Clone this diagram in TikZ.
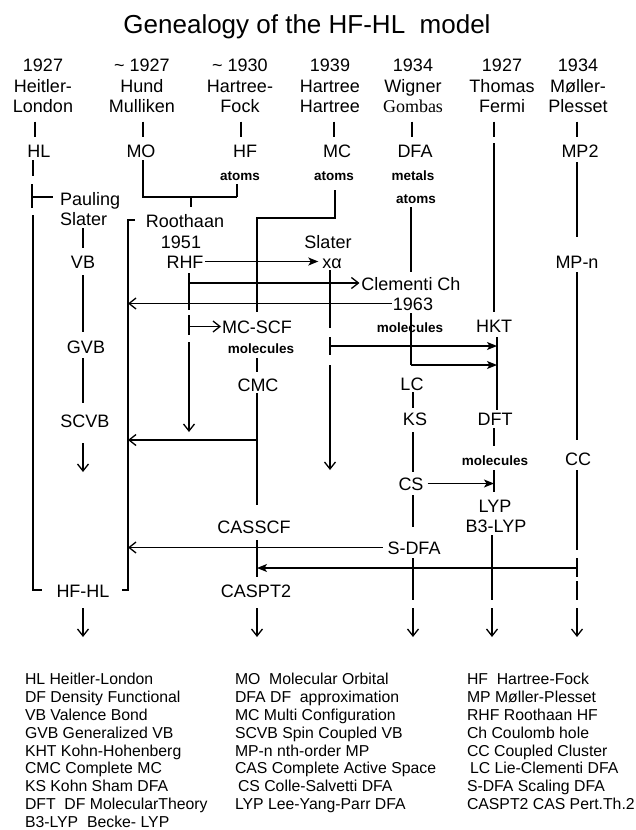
\documentclass[tikz,border=0pt]{standalone}
\usepackage{fontspec}
\setmainfont{Liberation Sans}
\newfontfamily\gombasfont{Liberation Serif}
\usetikzlibrary{arrows.meta}
\begin{document}
\begin{tikzpicture}[x=1pt,y=-1pt,
  lb/.style={font=\fontsize{18}{20.5}\selectfont, inner sep=0pt, outer sep=0pt, anchor=base, text height=13pt, text depth=0pt},
  sm/.style={font=\bfseries\fontsize{13.5}{14}\selectfont, inner sep=0pt, outer sep=0pt, anchor=base, text height=9.5pt, text depth=0pt},
  hd/.style={font=\fontsize{18}{20.5}\selectfont, align=center, inner sep=0pt, outer sep=0pt, anchor=north},
  ml/.style={font=\fontsize{18}{20.5}\selectfont, align=left, inner sep=0pt, outer sep=0pt, anchor=north west},
  lg/.style={font=\fontsize{15.8}{17.9}\selectfont, align=left, inner sep=0pt, outer sep=0pt, anchor=north west},
  ln/.style={line width=1.3pt},
  fa/.style={ln,-{Stealth[length=10pt,width=8pt,inset=2.5pt]}},
  ba/.style={ln,-{Straight Barb[length=7pt,width=11pt]}},
]
\fill[white] (0,0) rectangle (635,830);
\useasboundingbox (0,0) rectangle (635,830);

% ---------- title and headers
\node[font=\fontsize{26}{30}\selectfont, inner sep=0pt, anchor=base] (title) at (307,33) {Genealogy of the HF-HL\ \ model};
\node[hd] (h1) at (43,59) {1927\\Heitler-\\London};
\node[hd] (h2) at (142,59) {\textasciitilde\ 1927\\Hund\\Mulliken};
\node[hd] (h3) at (240,59) {\textasciitilde\ 1930\\Hartree-\\Fock};
\node[hd] (h4) at (330,59) {1939\\Hartree\\Hartree};
\node[hd] (h5) at (413,59) {1934\\Wigner\\{\gombasfont Gombas}};
\node[hd] (h6) at (502,59) {1927\\Thomas\\Fermi};
\node[hd] (h7) at (578,59) {1934\\Møller-\\Plesset};

% ---------- labels
\node[lb] (HL) at (39,157) {HL};
\node[lb] (MO) at (141,157) {MO};
\node[lb] (HF) at (245,157) {HF};
\node[lb] (MC) at (337,157) {MC};
\node[lb] (DFA) at (415,157) {DFA};
\node[lb] (MP2) at (580,157) {MP2};
\node[sm] (aHF) at (240,180) {atoms};
\node[sm] (aMC) at (334,180) {atoms};
\node[sm] (metals) at (413,180) {metals};
\node[sm] (aDFA) at (416,203) {atoms};
\node[ml] (PS) at (60,192) {Pauling\\Slater};
\node[lb] (Roo) at (185,227) {Roothaan};
\node[lb] (Y51) at (181,248) {1951};
\node[lb] (RHF) at (185,268) {RHF};
\node[lb] (Sl) at (328,248) {Slater};
\node[lb] (xa) at (332,268) {xα};
\node[lb] (VB) at (83,268) {VB};
\node[lb] (MPn) at (577,268) {MP-n};
\node[lb] (Cl) at (411,290) {Clementi Ch};
\node[lb] (Y63) at (413,310) {1963};
\node[lb] (HKT) at (494,332) {HKT};
\node[lb] (MCSCF) at (257,333) {MC-SCF};
\node[sm] (mol5) at (410,332) {molecules};
\node[sm] (mol4) at (261,353) {molecules};
\node[lb] (GVB) at (86,353) {GVB};
\node[lb] (CMC) at (258,391) {CMC};
\node[lb] (LC) at (412,390) {LC};
\node[lb] (DFT) at (495,425) {DFT};
\node[lb] (KS) at (415,425) {KS};
\node[lb] (SCVB) at (85,427) {SCVB};
\node[sm] (mol6) at (495,465) {molecules};
\node[lb] (CC) at (578,465) {CC};
\node[lb] (CS) at (411,490) {CS};
\node[lb] (LYP) at (495,512) {LYP};
\node[lb] (B3) at (496,532) {B3-LYP};
\node[lb] (CASSCF) at (254,533) {CASSCF};
\node[lb] (SDFA) at (414,554) {S-DFA};
\node[lb] (HFHL) at (83,597) {HF-HL};
\node[lb] (CASPT2) at (256,597) {CASPT2};

% ---------- column x references
\coordinate (kA) at (35,0);
\coordinate (kB) at (33,0);
\coordinate (kC) at (143,0);
\coordinate (kD) at (241,0);
\coordinate (kE) at (334,0);
\coordinate (kF) at (412,0);
\coordinate (kG) at (494,0);
\coordinate (kH) at (577,0);
\coordinate (kI) at (83,0);
\coordinate (kJ) at (189,0);
\coordinate (kK) at (257,0);
\coordinate (kL) at (330,0);
\coordinate (kM) at (411,0);
\coordinate (kN) at (413,0);
\coordinate (kO) at (492,0);

% ---------- header ticks
\foreach \h/\n/\k in {h1/HL/kA,h2/MO/kC,h3/HF/kD,h4/MC/kE,h5/DFA/kF,h7/MP2/kH}
  \draw[ln,shorten <=9pt,shorten >=7pt] (\h.south -| \k) -- (\n.north -| \k);
\coordinate (g6) at (494,140);
\draw[ln,shorten <=9pt,shorten >=3pt] (h6.south -| kG) -- (g6);
\draw[ln,shorten <=3pt,shorten >=7pt] (g6) -- (HKT.north -| kG);

% ---------- Heitler-London column and HF-HL brackets
\coordinate (p0) at (33,176);
\coordinate (p1) at (32,184);
\coordinate (p2) at (32,208);
\coordinate (pj) at (32,197);
\draw[ln,shorten <=3pt] (HL.south -| kB) -- (p0);
\draw[ln] (p1) -- (p2);
\draw[ln,shorten >=7pt] (pj) -- (pj -| PS.west);
\coordinate (q1) at (33,215);
\coordinate (q2) at (33,590);
\coordinate (q3) at (42,590);
\draw[ln] (q1) -- (q2) -- (q3);
\coordinate (r0) at (135,220);
\coordinate (r1) at (128,220);
\coordinate (r2) at (128,590);
\coordinate (r3) at (122,590);
\draw[ln] (r0) -- (r1) -- (r2) -- (r3);

% ---------- MO / HF bracket to Roothaan
\coordinate (m1) at (143,197);
\coordinate (m2) at (237,197);
\coordinate (mj) at (191,197);
\draw[ln,shorten <=3pt] (MO.south -| kC) -- (m1) -- (m2);
\draw[ln,shorten >=4pt] (m2) -- (m2 |- aHF.south);
\draw[ln,shorten >=7pt] (mj) -- (mj |- Roo.north);

% ---------- MC line to MC-SCF
\coordinate (n1) at (335,218);
\coordinate (n2) at (257,218);
\draw[ln,shorten <=10pt,shorten >=8pt] (aMC.south -| n1) -- (n1) -- (n2) -- (n2 |- MCSCF.north);

% ---------- RHF
\draw[fa,shorten <=2pt,shorten >=4pt] (RHF.east) -- (xa.west);
\coordinate (s1) at (189,283);
\coordinate (s2) at (189,310);
\draw[ln,shorten <=5pt] (RHF.south -| kJ) -- (s2);
\draw[ba,shorten >=2pt] (s1) -- (s1 -| Cl.west);
\coordinate (s3) at (189,315);
\coordinate (s4) at (189,335);
\draw[ln] (s3) -- (s4);
\draw[ba,shorten >=1pt] (MCSCF.west -| kJ) -- (MCSCF.west);
\coordinate (s5) at (189,342);
\coordinate (s6) at (189,432);
\draw[ba] (s5) -- (s6);

% ---------- 1963 to HF-HL
\draw[ba,shorten <=1pt] (Y63.west) -- (Y63.west -| r1);

% ---------- Slater x-alpha
\coordinate (t1) at (330,328);
\draw[ln,shorten <=2pt] (xa.south -| kL) -- (t1);
\coordinate (t2) at (330,337);
\coordinate (t3) at (330,355);
\coordinate (tm) at (330,346);
\draw[ln] (t2) -- (t3);
\coordinate (u1) at (497,337);
\coordinate (u2) at (497,355);
\coordinate (um) at (497,346);
\draw[ln] (u1) -- (u2);
\draw[fa] (tm) -- (um);
\coordinate (t4) at (330,365);
\coordinate (t5) at (330,470);
\draw[ba] (t4) -- (t5);

% ---------- DFA column
\draw[ln,shorten <=4pt,shorten >=5pt] (aDFA.south -| kM) -- (Cl.north -| kM);
\coordinate (w1) at (411,365);
\draw[ln,shorten <=3pt] (Y63.south -| kM) -- (w1);
\draw[fa] (w1) -- (w1 -| u2);
\draw[ln,shorten >=2pt] (u2) -- (u2 |- DFT.north);
\draw[ln,shorten <=2pt,shorten >=4pt] (LC.south -| kN) -- (KS.north -| kN);
\draw[ln,shorten <=7pt,shorten >=5pt] (KS.south -| kN) -- (CS.north -| kN);
\draw[fa,shorten <=4pt] (CS.east) -- (CS.east -| kG);
\draw[ln,shorten <=5pt,shorten >=14pt] (CS.south -| kN) -- (SDFA.north -| kN);
\draw[ba,shorten <=5pt] (SDFA.west) -- (SDFA.west -| r1);
\coordinate (z3) at (413,600);
\draw[ln,shorten <=4pt] (SDFA.south -| kN) -- (z3);

% ---------- DFT column
\draw[ln,shorten <=3pt,shorten >=10pt] (DFT.south -| kG) -- (mol6.north -| kG);
\coordinate (v1) at (494,470);
\coordinate (v2) at (494,492);
\draw[ln] (v1) -- (v2);
\coordinate (z4) at (492,600);
\draw[ln,shorten <=3pt] (B3.south -| kO) -- (z4);

% ---------- MP column
\draw[ln,shorten <=5pt,shorten >=18pt] (MP2.south -| kH) -- (MPn.north -| kH);
\draw[ln,shorten <=4pt,shorten >=12pt] (MPn.south -| kH) -- (CC.north -| kH);
\coordinate (y1) at (577,550);
\draw[ln,shorten <=5pt] (CC.south -| kH) -- (y1);
\coordinate (y2) at (577,558);
\coordinate (y3) at (577,577);
\coordinate (ym) at (577,568);
\draw[ln] (y2) -- (y3);
\coordinate (x1) at (257,558);
\coordinate (x2) at (257,577);
\coordinate (xm) at (257,568);
\draw[ln] (x1) -- (x2);
\draw[fa] (ym) -- (xm);
\coordinate (y4) at (577,581);
\coordinate (z5) at (577,600);
\draw[ln] (y4) -- (z5);

% ---------- CMC column
\draw[ln,shorten <=5pt,shorten >=6pt] (mol4.south -| kK) -- (CMC.north -| kK);
\draw[ln,shorten <=2pt,shorten >=15pt] (CMC.south -| kK) -- (CASSCF.north -| kK);
\coordinate (k1) at (257,440);
\draw[ba] (k1) -- (k1 -| r1);
\draw[ln,shorten <=7pt] (CASSCF.south -| kK) -- (x1);

% ---------- VB column
\draw[ln,shorten <=2.5pt,shorten >=7pt] (PS.south -| kI) -- (VB.north -| kI);
\draw[ln,shorten <=7pt,shorten >=8pt] (VB.south -| kI) -- (GVB.north -| kI);
\draw[ln,shorten <=5pt,shorten >=11pt] (GVB.south -| kI) -- (SCVB.north -| kI);
\coordinate (sc) at (83,472);
\draw[ba,shorten <=16pt] (SCVB.south -| kI) -- (sc);

% ---------- final arrows
\draw[ba,shorten <=11pt] (HFHL.south -| kI) -- ++(0,40);
\draw[ba,shorten <=11pt] (CASPT2.south -| kK) -- ++(0,40);
\draw[ba,shorten <=8pt] (z3) -- ++(0,37);
\draw[ba,shorten <=8pt] (z4) -- ++(0,37);
\draw[ba,shorten <=8pt] (z5) -- ++(0,37);

% ---------- legend
\node[lg] (legA) at (25,673) {HL Heitler-London\\DF Density Functional\\VB Valence Bond\\GVB Generalized VB\\KHT Kohn-Hohenberg\\CMC Complete MC\\KS Kohn Sham DFA\\DFT\ \ DF MolecularTheory\\B3-LYP\ \ Becke- LYP};
\node[lg] (legB) at (235,673) {MO\ \ Molecular Orbital\\DFA DF\ \ approximation\\MC Multi Configuration\\SCVB Spin Coupled VB\\MP-n nth-order MP\\CAS Complete Active Space\\\hspace{3pt}CS Colle-Salvetti DFA\\LYP Lee-Yang-Parr DFA};
\node[lg] (legC) at (467,673) {HF\ \ Hartree-Fock\\MP Møller-Plesset\\RHF Roothaan HF\\Ch Coulomb hole\\CC Coupled Cluster\\\hspace{3pt}LC Lie-Clementi DFA\\S-DFA Scaling DFA\\CASPT2 CAS Pert.Th.2};
\end{tikzpicture}
\end{document}
